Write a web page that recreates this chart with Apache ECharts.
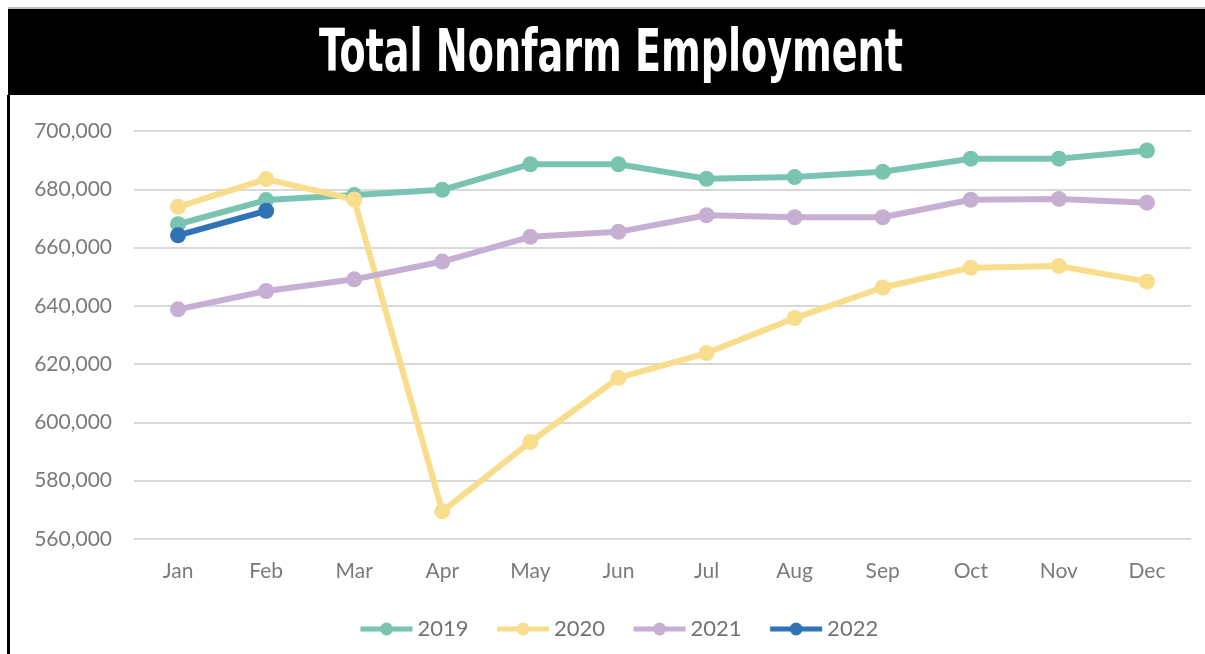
<!DOCTYPE html>
<html>
<head>
<meta charset="utf-8">
<script src="https://cdn.jsdelivr.net/npm/echarts@6/dist/echarts.min.js"></script>
<style>
  html, body { margin: 0; padding: 0; background: #fff; }
  #main { width: 1205px; height: 654px; }
</style>
</head>
<body>
<div id="main"></div>
<script>
// months on the x axis
var months = ['Jan', 'Feb', 'Mar', 'Apr', 'May', 'Jun', 'Jul', 'Aug', 'Sep', 'Oct', 'Nov', 'Dec'];

// employment by year
var y2019 = [668000, 676300, 678000, 679800, 688600, 688600, 683600, 684200, 686000, 690500, 690500, 693300];
var y2020 = [674000, 683500, 676500, 569500, 593300, 615300, 623800, 635800, 646300, 653100, 653700, 648300];
var y2021 = [638800, 645100, 649100, 655200, 663700, 665400, 671100, 670400, 670400, 676400, 676700, 675400];
var y2022 = [664200, 672600];

var colors = ['#79c4b0', '#f8dd8c', '#c6afd3', '#2f73b6'];

var myChart = echarts.init(document.getElementById('main'));

function lineSeries(name, data) {
    return {
        name: name,
        type: 'line',
        data: data,
        symbol: 'circle',
        symbolSize: 16,
        lineStyle: { width: 6 },
        emphasis: { disabled: true }
    };
}

myChart.setOption({
    animation: false,
    color: colors,
    graphic: [
        // thin top rule
        { type: 'rect', shape: { x: 8, y: 7, width: 1197, height: 2 }, style: { fill: '#bfbfbf' }, z: 0 },
        // header band
        { type: 'rect', shape: { x: 8, y: 9, width: 1197, height: 86 }, style: { fill: '#000' }, z: 0 },
        // left frame edge
        { type: 'rect', shape: { x: 7, y: 95, width: 3, height: 559 }, style: { fill: '#000' }, z: 0 },
        // title, condensed by horizontal scaling
        {
            type: 'text',
            x: 611, y: 56,
            scaleX: 0.73,
            z: 10,
            style: {
                text: 'Total Nonfarm Employment',
                fill: '#fff',
                font: 'bold 58px "DejaVu Sans Condensed", "DejaVu Sans", sans-serif',
                align: 'center',
                verticalAlign: 'middle'
            }
        }
    ],
    legend: {
        bottom: 9,
        left: 353,
        itemWidth: 52,
        itemHeight: 16,
        itemGap: 26,
        lineStyle: { width: 5 },
        textStyle: { color: '#767171', fontSize: 22, fontFamily: 'Lato' },
        data: ['2019', '2020', '2021', '2022']
    },
    grid: { left: 134, right: 14, top: 131, bottom: 115 },
    xAxis: {
        type: 'category',
        data: months,
        boundaryGap: true,
        axisLine: { show: false },
        axisTick: { show: false },
        axisLabel: { color: '#7a7a7a', fontSize: 21, fontFamily: 'Lato', margin: 22 }
    },
    yAxis: {
        type: 'value',
        min: 560000,
        max: 700000,
        interval: 20000,
        axisLine: { show: false },
        axisTick: { show: false },
        splitLine: { lineStyle: { color: '#d9d9d9', width: 2 } },
        axisLabel: {
            color: '#7a7a7a',
            fontSize: 21,
            fontFamily: 'Lato',
            margin: 22,
            formatter: function (v) { return v.toLocaleString('en-US'); }
        }
    },
    series: [
        lineSeries('2019', y2019),
        lineSeries('2020', y2020),
        lineSeries('2021', y2021),
        lineSeries('2022', y2022)
    ]
});
</script>
</body>
</html>
